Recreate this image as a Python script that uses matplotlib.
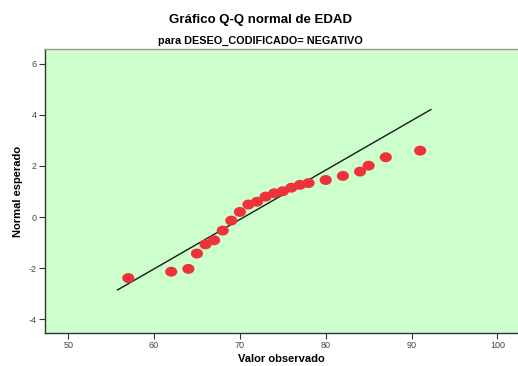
import matplotlib
matplotlib.use("Agg")
import matplotlib.pyplot as plt
import numpy as np
from matplotlib.path import Path

plt.rcParams['font.family'] = ['Liberation Sans', 'DejaVu Sans']
plt.rcParams['axes.unicode_minus'] = False

# Data
observed = [57, 62, 64, 65, 66, 67, 68, 69, 70, 71, 72, 73, 74, 75, 76, 77, 78, 80, 82, 84, 85, 87, 91]
expected = [-2.39, -2.14, -2.03, -1.43, -1.07, -0.91, -0.53, -0.14, 0.20, 0.49, 0.60, 0.80, 0.93,
            1.01, 1.15, 1.26, 1.33, 1.45, 1.61, 1.78, 2.01, 2.34, 2.60]
line_x = [55.75, 92.25]
mean_val = 70.5
sd_val = 5.17
x_ticks = [50, 60, 70, 80, 90, 100]
y_ticks = [-4, -2, 0, 2, 4, 6]

fig = plt.figure(figsize=(5.18, 3.66), dpi=100)
ax = fig.add_axes([0.0869, 0.0902, 0.9131, 0.776])
ax.set_facecolor('#CCFFCC')

# elliptical marker
t = np.linspace(0, 2 * np.pi, 60)
verts = np.column_stack([np.cos(t), 0.82 * np.sin(t)])
ell = Path(verts, closed=True)

lx = np.array(line_x)
ly = (lx - mean_val) / sd_val
ax.plot(lx, ly, color='#1a1a1a', lw=1.0, zorder=2)
ax.scatter(observed, expected, marker=ell, s=76, color='#EE323A', edgecolors='none', zorder=3)

ax.set_xlim(47.3, 102.4)
ax.set_ylim(-4.54, 6.58)
ax.set_xticks(x_ticks)
ax.set_yticks(y_ticks)
ax.tick_params(axis='both', labelsize=6.5, labelcolor='#444444', color='#333333',
               length=4, width=0.8, direction='out', pad=2)

ax.spines['right'].set_visible(False)
ax.spines['top'].set_color('#999999')
ax.spines['left'].set_color('#333333')
ax.spines['bottom'].set_color('#333333')
for s in ['left', 'bottom', 'top']:
    ax.spines[s].set_linewidth(1.0)

ax.set_xlabel('Valor observado', fontsize=8, fontweight='bold', labelpad=3)
ax.set_ylabel('Normal esperado', fontsize=8, fontweight='bold', labelpad=4)

fig.text(0.502, 0.944, 'Gráfico Q-Q normal de EDAD', ha='center', va='center',
         fontsize=9.5, fontweight='bold')
fig.text(0.502, 0.888, 'para DESEO_CODIFICADO= NEGATIVO', ha='center', va='center',
         fontsize=7.8, fontweight='bold')

fig.savefig('out.png', dpi=100)
